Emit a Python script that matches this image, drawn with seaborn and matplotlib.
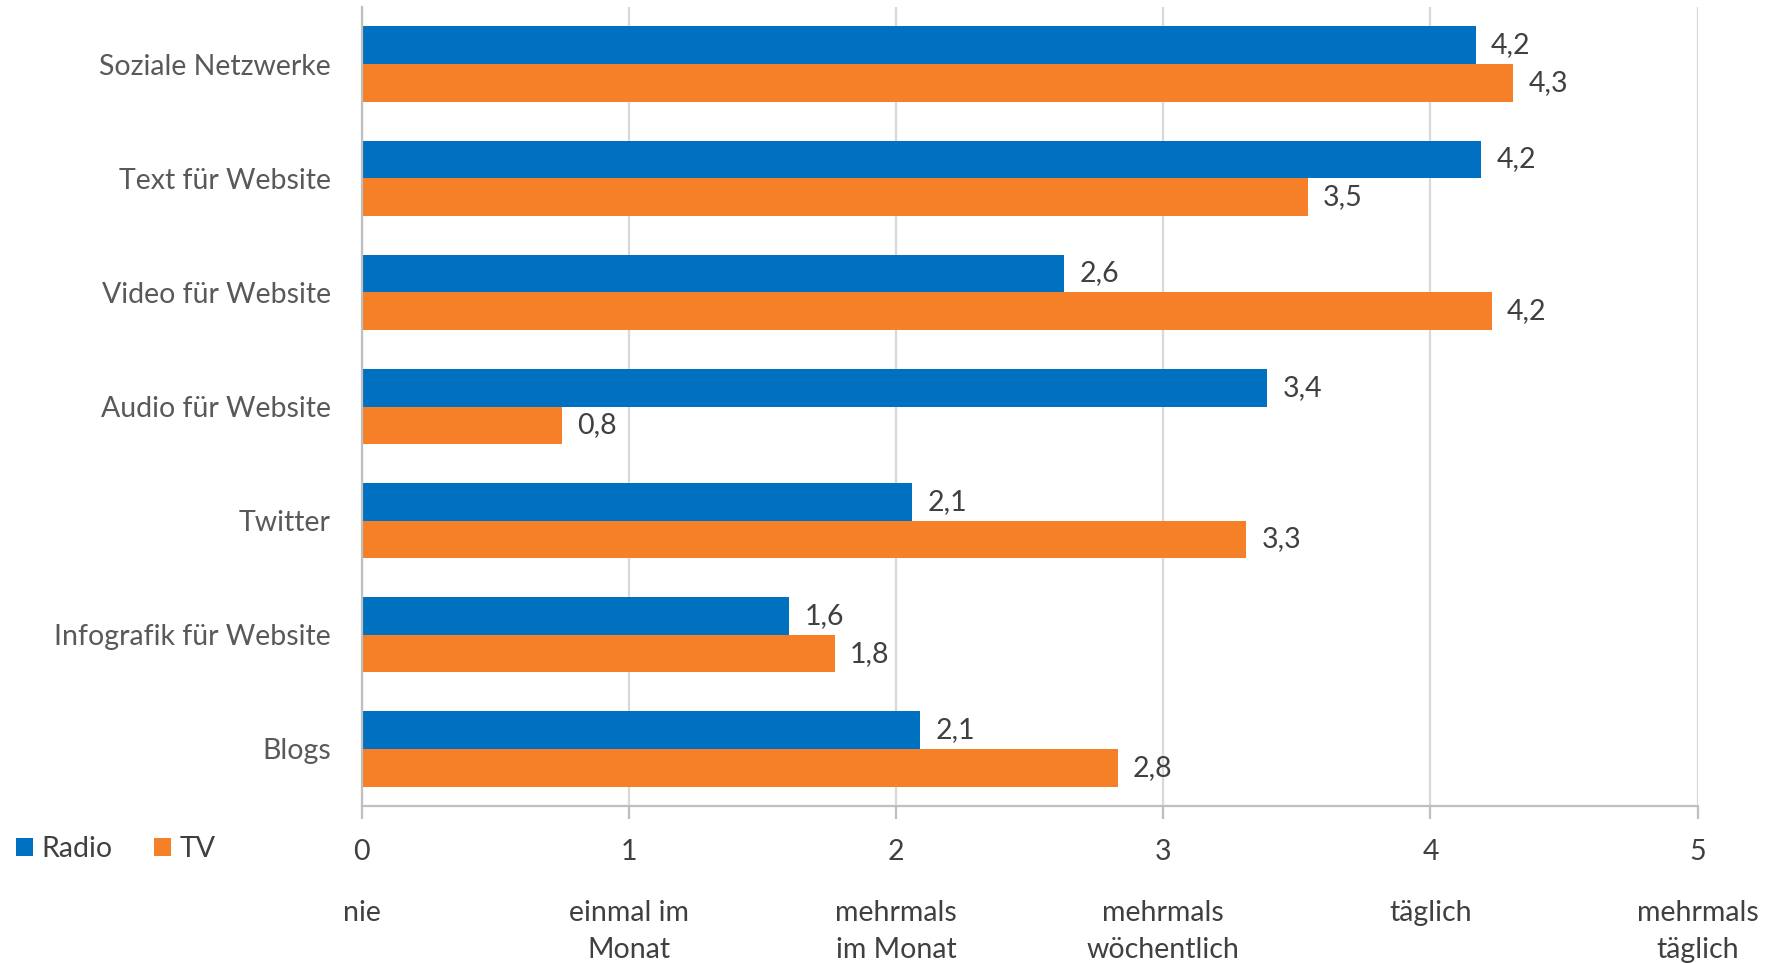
import matplotlib
matplotlib.use("Agg")
import matplotlib.pyplot as plt
from matplotlib.patches import Patch
import pandas as pd
import seaborn as sns

# Nutzungshäufigkeit crossmedialer Formate (0 = nie ... 5 = mehrmals täglich)
categories = ["Soziale Netzwerke", "Text für Website", "Video für Website",
              "Audio für Website", "Twitter", "Infografik für Website", "Blogs"]
radio = [4.17, 4.19, 2.63, 3.39, 2.06, 1.60, 2.09]
tv = [4.31, 3.54, 4.23, 0.75, 3.31, 1.77, 2.83]
series = ["Radio", "TV"]
tick_values = [0, 1, 2, 3, 4, 5]
tick_descriptions = ["nie", "einmal im\nMonat", "mehrmals\nim Monat",
                     "mehrmals\nwöchentlich", "täglich", "mehrmals\ntäglich"]

colors = {"Radio": "#0070C0", "TV": "#F58027"}

df = pd.DataFrame({
    "Format": categories * 2,
    "Wert": radio + tv,
    "Sender": ["Radio"] * len(categories) + ["TV"] * len(categories),
})

sns.set_theme(style="white")
plt.rcParams["font.family"] = ["Lato", "DejaVu Sans"]
FS = 20.5

W, H = 1769, 963
fig = plt.figure(figsize=(W / 100, H / 100), dpi=100)
ax = fig.add_axes([361.5 / W, 1 - 806 / H, (1697.7 - 361.5) / W, (806 - 7) / H])

sns.barplot(data=df, y="Format", x="Wert", hue="Sender", order=categories,
            hue_order=series, palette=colors, orient="h", width=0.66,
            saturation=1, legend=False, ax=ax, edgecolor="none")

ax.set_xlim(0, 5)
ax.set_ylim(len(categories) - 0.5, -0.5)
ax.set_xlabel("")
ax.set_ylabel("")

# Gitterlinien und Achsen
grid_col = "#D9D9D9"
ax.set_xticks(tick_values)
ax.xaxis.grid(True, color=grid_col, linewidth=1.6)
ax.set_axisbelow(True)
for side in ["top", "right"]:
    ax.spines[side].set_visible(False)
for side in ["left", "bottom"]:
    ax.spines[side].set_color("#BFBFBF")
    ax.spines[side].set_linewidth(1.6)
ax.tick_params(axis="x", which="both", bottom=True, length=9, width=1.6,
               color="#BFBFBF", labelsize=FS, labelcolor="#404040", pad=15)
ax.set_xticklabels([str(v) for v in tick_values])
ax.tick_params(axis="y", length=0, labelsize=FS, labelcolor="#595959", pad=22)

# Beschriftung der Skalenwerte
for v, desc in zip(tick_values, tick_descriptions):
    for i, line in enumerate(desc.split("\n")):
        ax.annotate(line, xy=(v, 0), xycoords=("data", "axes fraction"),
                    xytext=(0, -77 - i * 27), textcoords="offset points",
                    ha="center", va="center", fontsize=FS, color="#404040",
                    annotation_clip=False)

# Datenbeschriftungen
for container in ax.containers:
    ax.bar_label(container, labels=[f"{w:.1f}".replace(".", ",")
                                    for w in container.datavalues],
                 padding=11, fontsize=FS, color="#404040")

handles = [Patch(facecolor=colors[s], edgecolor="none", label=s) for s in series]
fig.legend(handles=handles, loc="center left", bbox_to_anchor=(2 / W, 1 - 849 / H),
           ncol=2, frameon=False, fontsize=FS, handlelength=0.6, handleheight=0.6,
           handletextpad=0.3, columnspacing=1.45, borderpad=0, labelcolor="#404040")

fig.savefig("out.png", dpi=100, facecolor="white")
